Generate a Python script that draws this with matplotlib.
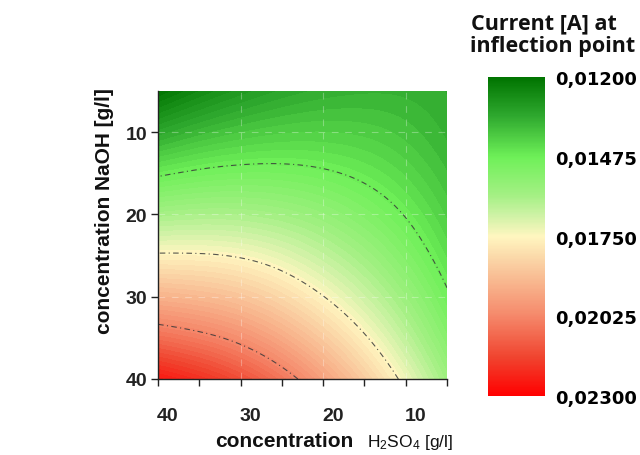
import numpy as np
import matplotlib
matplotlib.use("Agg")
import matplotlib.pyplot as plt
import matplotlib.tri as mtri
from matplotlib.colors import LinearSegmentedColormap, Normalize
from matplotlib.cm import ScalarMappable
from matplotlib.transforms import ScaledTranslation

# ---- data ----
h2so4 = [40, 35, 30, 25, 20, 15, 10, 5]          # x (g/l)
naoh = [5, 10, 15, 20, 25, 30, 35, 40]           # y (g/l)
# current [A] at inflection point, rows = NaOH, cols = H2SO4
current = [
    [0.01200, 0.01253, 0.01295, 0.01326, 0.01346, 0.01355, 0.01353, 0.01340],
    [0.01328, 0.01366, 0.01392, 0.01407, 0.01411, 0.01404, 0.01385, 0.01354],
    [0.01464, 0.01487, 0.01498, 0.01497, 0.01484, 0.01460, 0.01424, 0.01377],
    [0.01609, 0.01619, 0.01617, 0.01600, 0.01569, 0.01525, 0.01471, 0.01406],
    [0.01759, 0.01757, 0.01743, 0.01709, 0.01658, 0.01597, 0.01524, 0.01442],
    [0.01916, 0.01899, 0.01870, 0.01820, 0.01752, 0.01674, 0.01585, 0.01485],
    [0.02080, 0.02048, 0.02003, 0.01937, 0.01854, 0.01759, 0.01652, 0.01536],
    [0.02251, 0.02204, 0.02143, 0.02062, 0.01962, 0.01850, 0.01727, 0.01593],
]
line_levels = [0.01475, 0.01750, 0.02025]
cbar_ticks = [0.01200, 0.01475, 0.01750, 0.02025, 0.02300]
cbar_labels = ["0,01200", "0,01475", "0,01750", "0,02025", "0,02300"]
x_ticks = [40, 30, 20, 10]
y_ticks = [10, 20, 30, 40]

# ---- colormap ----
cmap = LinearSegmentedColormap.from_list("gyr", [
    (0.00, "#007400"),
    (0.12, "#2ea82e"),
    (0.25, "#6ef058"),
    (0.37, "#a4f084"),
    (0.43, "#ccf2a4"),
    (0.50, "#fff6c0"),
    (0.58, "#fad2a4"),
    (0.75, "#f5886a"),
    (0.88, "#f0442f"),
    (1.00, "#ff0000"),
])
norm = Normalize(vmin=0.012, vmax=0.023)

fig = plt.figure(figsize=(6.4, 4.56), dpi=100)
W, H = 640, 456
ax = fig.add_axes([158 / W, 1 - 380 / H, 289 / W, 288 / H])

X, Y = np.meshgrid(np.array(h2so4, float), np.array(naoh, float))
Z = np.array(current)
tri = mtri.Triangulation(X.ravel(), Y.ravel())
refiner = mtri.UniformTriRefiner(tri)
interp = mtri.CubicTriInterpolator(tri, Z.ravel(), kind="min_E")
tri_f, z_f = refiner.refine_field(Z.ravel(), triinterpolator=interp, subdiv=4)

fill_levels = np.linspace(0.0115, 0.0235, 70)
ax.tricontourf(tri_f, z_f, levels=fill_levels, cmap=cmap, norm=norm, extend="both")
ax.tricontour(tri_f, z_f, levels=line_levels, colors="#3a3a3a",
              linewidths=0.8, linestyles=[(0, (5, 3, 1, 3))], alpha=0.85)

ax.set_xlim(40, 5)
ax.set_ylim(40, 5)
ax.set_xticks(x_ticks)
ax.set_xticks([35, 25, 15, 5], minor=True)
ax.set_yticks(y_ticks)
ax.grid(True, color="white", ls=(0, (6, 6)), lw=0.8, alpha=0.3)
for s in ["top", "right"]:
    ax.spines[s].set_visible(False)
for s in ["left", "bottom"]:
    ax.spines[s].set_linewidth(1.0)
    ax.spines[s].set_color("#222222")
ax.tick_params(axis="both", which="both", direction="out", length=5, width=1.0,
               colors="#222222")
ax.tick_params(axis="x", which="major", pad=15)
ax.tick_params(axis="y", which="major", pad=3)
tick_font = dict(family="Liberation Sans", weight="bold", size=14)
for lab in ax.get_xticklabels():
    lab.set_fontproperties(matplotlib.font_manager.FontProperties(**tick_font))
    lab.set_transform(lab.get_transform() + ScaledTranslation(0.10, 0, fig.dpi_scale_trans))
for lab in ax.get_yticklabels():
    lab.set_fontproperties(matplotlib.font_manager.FontProperties(**tick_font))

# axis labels
fig.text(104 / W, 1 - 211 / H, "concentration NaOH [g/l]", rotation=90,
         ha="center", va="center", family="Liberation Sans", weight="bold",
         size=15, color="#111111")
fig.text(215 / W, 1 - 447 / H, "concentration", ha="left", va="baseline",
         family="Liberation Sans", weight="bold", size=15, color="#111111")
plt.rcParams["mathtext.default"] = "regular"
fig.text(367 / W, 1 - 447 / H, "H$_2$SO$_4$ [g/l]", ha="left", va="baseline",
         family="Liberation Sans", size=12.5, color="#111111")

# colorbar
cax = fig.add_axes([488 / W, 1 - 397 / H, 57 / W, 319 / H])
sm = ScalarMappable(norm=norm, cmap=cmap)
cb = fig.colorbar(sm, cax=cax, ticks=cbar_ticks)
cb.outline.set_visible(False)
cax.invert_yaxis()
cax.set_yticklabels(cbar_labels)
cax.tick_params(length=0, pad=7)
for lab in cax.get_yticklabels():
    lab.set_fontproperties(matplotlib.font_manager.FontProperties(
        family="DejaVu Sans", weight="bold", size=13))

fig.text(471 / W, 1 - 29 / H, "Current [A] at", ha="left", va="baseline",
         family="Open Sans", weight="bold", size=15.5, color="#111111")
fig.text(470 / W, 1 - 52 / H, "inflection point", ha="left", va="baseline",
         family="Open Sans", weight="bold", size=15.5, color="#111111")

fig.savefig("out.png", dpi=100)
